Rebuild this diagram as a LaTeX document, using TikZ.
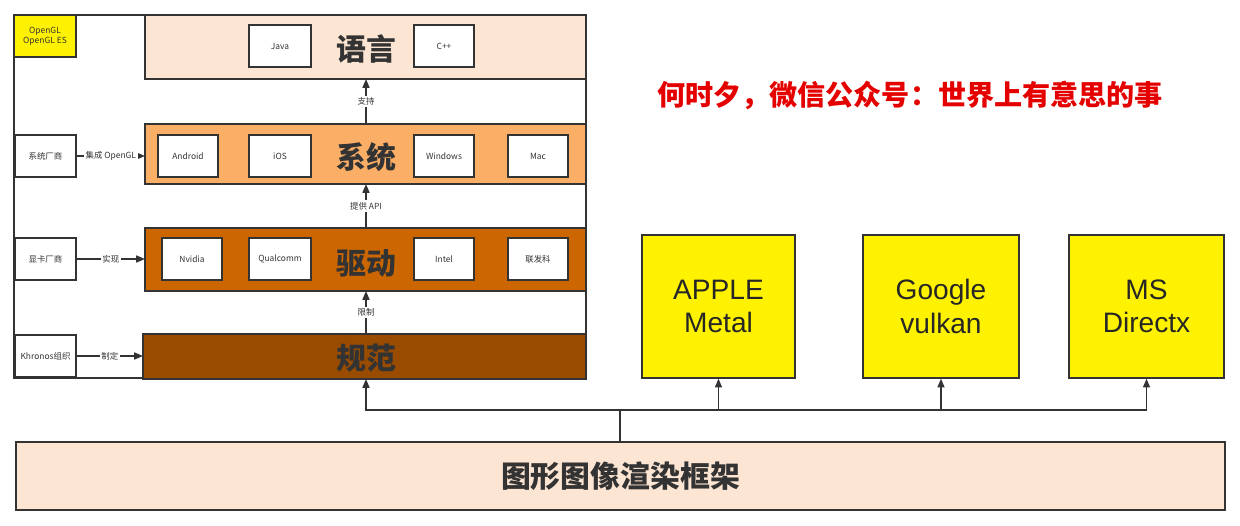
\documentclass[tikz,border=0pt]{standalone}
\usepackage{fontspec}
\setmainfont{Liberation Sans}
\newfontfamily\cjk{Noto Sans CJK SC}
\usetikzlibrary{arrows.meta}
\definecolor{c1}{HTML}{FCE5D2}
\definecolor{c2}{HTML}{FBAE66}
\definecolor{c3}{HTML}{CC6600}
\definecolor{c4}{HTML}{994C00}
\definecolor{ln}{HTML}{333333}
\begin{document}
\begin{tikzpicture}[x=0.02cm,y=-0.02cm,
  bx/.style={draw=ln,line width=0.8pt,inner sep=0},
  sm/.style={bx,fill=white,font=\cjk\fontsize{4.8}{5.5}\selectfont,text=ln},
  big/.style={font=\cjk\bfseries\fontsize{17}{19}\selectfont,text=black!80},
  ar/.style={-{Triangle[length=5pt,width=4pt]},draw=ln,line width=0.8pt},
  lbl/.style={fill=white,inner sep=1pt,font=\cjk\fontsize{4.8}{5.5}\selectfont,text=ln},
  yb/.style={bx,fill=yellow,font=\fontsize{16}{19}\selectfont,align=center,text=black!85}]
\useasboundingbox (0,0) rectangle (1240,526);
\fill[white] (0,0) rectangle (1240,526);
% outer frame
\draw[ln,line width=0.8pt] (14,15) rectangle (586,378);
% layers
\path[bx,fill=c1] (145,15) rectangle (586,79); \node[big] (yy) at (366,49) {语言};
\path[bx,fill=c2] (145,124) rectangle (586,184); \node[big] (xt) at (366,157) {系统};
\path[bx,fill=c3] (145,228) rectangle (586,291); \node[big] (qd) at (366,263) {驱动};
\path[bx,fill=c4] (143,334) rectangle (586,379); \node[big] (gf) at (366,358) {规范};
\coordinate (L1b) at (366,79); \coordinate (L2t) at (366,124); \coordinate (L2b) at (366,184);
\coordinate (L3t) at (366,228); \coordinate (L3b) at (366,291); \coordinate (L4t) at (366,334);
\coordinate (L4b) at (366,379);
% small boxes
\path[sm,fill=yellow] (14,15) rectangle node[align=center,text=ln]{OpenGL\\OpenGL ES} (76,57);
\path[sm] (249,25) rectangle node{Java} (311,67);
\path[sm] (414,25) rectangle node{C++} (474,67);
\path[sm] (158,135) rectangle node{Android} (218,177);
\path[sm] (249,135) rectangle node{iOS} (311,177);
\path[sm] (414,135) rectangle node{Windows} (474,177);
\path[sm] (508,135) rectangle node{Mac} (568,177);
\path[sm] (162,238) rectangle node{Nvidia} (222,280);
\path[sm] (249,238) rectangle node{Qualcomm} (311,280);
\path[sm] (414,238) rectangle node{Intel} (474,280);
\path[sm] (508,238) rectangle node{联发科} (568,280);
\node[sm,minimum width=1.22cm,minimum height=0.84cm] (v1) at (45.5,156) {系统厂商};
\node[sm,minimum width=1.22cm,minimum height=0.84cm] (v2) at (45.5,259) {显卡厂商};
\node[sm,minimum width=1.22cm,minimum height=0.84cm] (v3) at (45.5,356) {Khronos组织};
\coordinate (t1) at (145,156); \coordinate (t2) at (145,259); \coordinate (t3) at (143,356);
\draw[ar] (v1) -- node[lbl]{集成 OpenGL} (t1);
\draw[ar] (v2) -- node[lbl]{实现} (t2);
\draw[ar] (v3) -- node[lbl]{制定} (t3);
\draw[ar] (L2t) -- node[lbl]{支持} (L1b);
\draw[ar] (L3t) -- node[lbl]{提供 API} (L2b);
\draw[ar] (L4t) -- node[lbl]{限制} (L3b);
% right boxes
\node[yb,minimum width=3.06cm,minimum height=2.86cm] (apple) at (718.5,306.5) {APPLE\\Metal};
\node[yb,minimum width=3.12cm,minimum height=2.86cm] (google) at (941,306.5) {Google\\vulkan};
\node[yb,minimum width=3.1cm,minimum height=2.86cm] (ms) at (1146.5,306.5) {MS\\Directx};
% red text
\node[font=\cjk\bfseries\fontsize{16}{18}\selectfont,text=red!90!black] (rt) at (910,95) {何时夕，微信公众号：世界上有意思的事};
% bottom
\node[bx,fill=c1,minimum width=24.18cm,minimum height=1.36cm,font=\cjk\bfseries\fontsize{17}{19}\selectfont,text=black!80] (base) at (620.5,476) {图形图像渲染框架};
\coordinate (j) at (620,410);
\draw[ln,line width=0.8pt] (base.north -| j) -- (j);
\draw[ar] (j) -| (L4b);
\draw[ar] (j) -| (apple.south);
\draw[ar] (j) -| (google.south);
\draw[ar] (j) -| (ms.south);
\end{tikzpicture}
\end{document}
